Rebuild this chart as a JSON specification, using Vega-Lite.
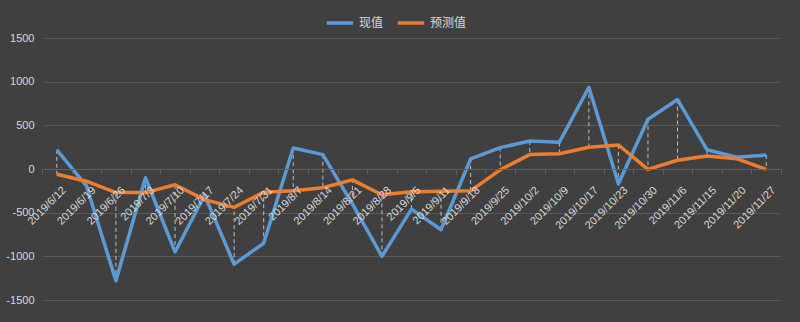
{
  "$schema": "https://vega.github.io/schema/vega-lite/v6.json",
  "width": 739,
  "height": 262,
  "autosize": {"type": "none"},
  "padding": {"left": 42, "top": 38, "right": 19, "bottom": 22},
  "background": "#404040",
  "config": {"view": {"stroke": null}, "font": "Liberation Sans"},
  "data": {
    "values": [
      {"date": "2019/6/12", "现值": 220, "预测值": -60},
      {"date": "2019/6/19", "现值": -190, "预测值": -140},
      {"date": "2019/6/26", "现值": -1280, "预测值": -270},
      {"date": "2019/7/3", "现值": -100, "预测值": -270},
      {"date": "2019/7/10", "现值": -950, "预测值": -180},
      {"date": "2019/7/17", "现值": -300, "预测值": -350},
      {"date": "2019/7/24", "现值": -1090, "预测值": -440},
      {"date": "2019/7/31", "现值": -850, "预测值": -265},
      {"date": "2019/8/7", "现值": 240, "预测值": -250},
      {"date": "2019/8/14", "现值": 165, "预测值": -215},
      {"date": "2019/8/21", "现值": -400, "预测值": -125},
      {"date": "2019/8/28", "现值": -1000, "预测值": -295},
      {"date": "2019/9/5", "现值": -460, "预测值": -260},
      {"date": "2019/9/11", "现值": -695, "预测值": -255},
      {"date": "2019/9/18", "现值": 115, "预测值": -250},
      {"date": "2019/9/25", "现值": 245, "预测值": -10},
      {"date": "2019/10/2", "现值": 320, "预测值": 165},
      {"date": "2019/10/9", "现值": 305, "预测值": 175},
      {"date": "2019/10/17", "现值": 935, "预测值": 250},
      {"date": "2019/10/23", "现值": -170, "预测值": 275},
      {"date": "2019/10/30", "现值": 570, "预测值": -5},
      {"date": "2019/11/6", "现值": 795, "预测值": 100},
      {"date": "2019/11/15", "现值": 220, "预测值": 150},
      {"date": "2019/11/20", "现值": 135, "预测值": 118},
      {"date": "2019/11/27", "现值": 160, "预测值": -5}
    ]
  },
  "layer": [
    {
      "mark": {"type": "rule", "strokeDash": [4, 3], "color": "#bfbfbf", "strokeWidth": 1},
      "encoding": {
        "x": {
          "field": "date", "type": "nominal", "sort": null,
          "axis": {
            "title": null, "labelAngle": -45, "offset": -131, "zindex": 1,
            "domainColor": "#5f5f5f", "tickColor": "#5f5f5f", "tickSize": 5, "tickBand": "extent",
            "labelColor": "#d9d9d9", "labelFontSize": 11, "grid": false, "labelPadding": 10, "labelOffset": 3
          }
        },
        "y": {
          "field": "现值", "type": "quantitative",
          "scale": {"domain": [-1500, 1500], "nice": false},
          "axis": {
            "title": null, "values": [-1500, -1000, -500, 0, 500, 1000, 1500],
            "labelExpr": "'' + datum.value",
            "domain": false, "ticks": false, "gridColor": "#5a5a5a", "gridOpacity": 1,
            "labelColor": "#d9d9d9", "labelFontSize": 11, "labelPadding": 8
          }
        },
        "y2": {"field": "预测值"}
      }
    },
    {
      "transform": [{"fold": ["现值", "预测值"], "as": ["series", "value"]}],
      "mark": {"type": "line", "strokeWidth": 3.5, "strokeJoin": "round"},
      "encoding": {
        "x": {"field": "date", "type": "nominal", "sort": null},
        "y": {"field": "value", "type": "quantitative"},
        "color": {
          "field": "series", "type": "nominal",
          "scale": {"domain": ["现值", "预测值"], "range": ["#5B9BD5", "#ED7D31"]},
          "legend": {
            "title": null, "orient": "none", "legendX": 283, "legendY": -30,
            "direction": "horizontal", "symbolType": "stroke", "symbolStrokeWidth": 3.5,
            "symbolSize": 700, "labelColor": "#d9d9d9", "labelFont": "Noto Sans CJK SC",
            "labelFontSize": 12, "columnPadding": 6
          }
        }
      }
    }
  ]
}
